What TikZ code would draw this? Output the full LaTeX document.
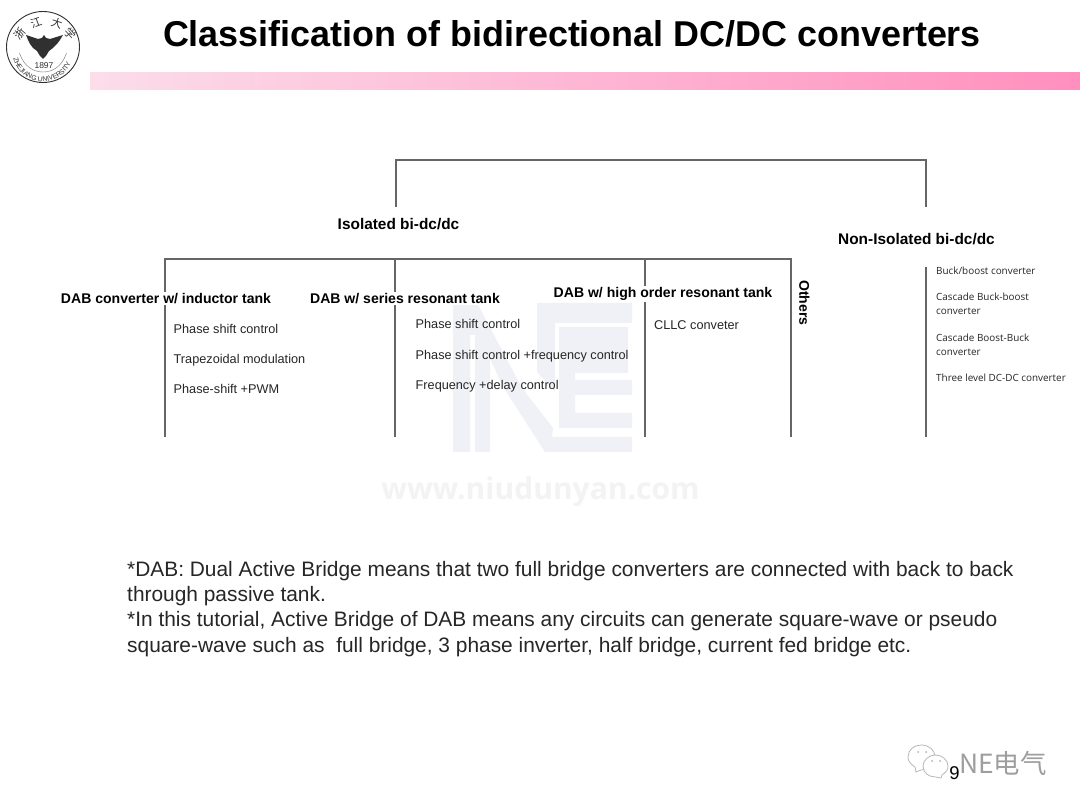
\documentclass[tikz,border=0pt]{standalone}
\usepackage{fontspec}
\setmainfont{Liberation Sans}
\newfontfamily\cjkf{Noto Sans CJK SC}
\newfontfamily\bodyf{Open Sans}
\usetikzlibrary{decorations.text}
\definecolor{linegray}{HTML}{666666}
\definecolor{wmark}{HTML}{F0F1F6}
\definecolor{wtext}{HTML}{F3F3F3}
\definecolor{textgray}{HTML}{262626}
\definecolor{logogray}{HTML}{303030}
\definecolor{barleft}{HTML}{FCDDE9}
\definecolor{barright}{HTML}{FF8FBE}
\tikzset{
  x=1pt,y=-1pt,
  conn/.style={draw=linegray,line width=1.4pt},
  head/.style={inner sep=1pt,font=\fontsize{14.05}{17}\selectfont\bfseries,text=black},
  headbig/.style={inner sep=1pt,font=\fontsize{15.4}{18}\selectfont\bfseries,text=black},
  headw/.style={head,fill=white},
  item/.style={anchor=base west,inner sep=0pt,font=\fontsize{12.7}{15}\selectfont,text=textgray},
  small/.style={anchor=north west,inner sep=0pt,align=left,font=\bodyf\fontsize{9.9}{14}\selectfont,text=textgray},
  wm/.style={fill=wmark,draw=none},
  bubble/.style={draw=black!28,line width=0.8pt,fill=white},
}
\begin{document}
\begin{tikzpicture}
\useasboundingbox (0,0) rectangle (1080,810);
\fill[white] (0,0) rectangle (1080,810);
% watermark N
\fill[wm] (453,303) -- (477,303) -- (522,388) -- (553,428) -- (552,437) -- (632,437) -- (632,452) -- (545,452) -- (502,385) -- (490,358) -- (490,452) -- (475,452) -- (475,335) -- (470,335) -- (470,452) -- (453,452) -- cycle;
% watermark E
\fill[wm] (537,303) -- (632,303) -- (632,323) -- (555,323) -- (555,392) -- (537,372) -- cycle;
\fill[wm] (559,327) -- (628,327) -- (628,373) -- (575,373) -- (575,380) -- (632,380) -- (632,395) -- (575,395) -- (575,413) -- (632,413) -- (632,428) -- (559,428) -- cycle;
\node[inner sep=0pt,text=wtext,font=\bodyf\fontsize{30}{35}\selectfont\bfseries] (wmtext) at (540.500,492) {www.niudunyan.com};
% title and bar
\node[inner sep=0pt,font=\fontsize{35.9}{40}\selectfont\bfseries] (title) at (572,34) {Classification of bidirectional DC/DC converters};
\shade[left color=barleft,right color=barright] (90,73) rectangle (1080,90);
% top bracket
\coordinate (tl) at (396,160); \coordinate (tr) at (926,160);
\coordinate (isoTop) at (396,207); \coordinate (nonTop) at (926,207);
\draw[conn] (isoTop) -- (tl) -- (tr) -- (nonTop);
\node[headbig] (iso) at (398.500,224) {Isolated bi-dc/dc};
\node[headbig] (non) at (916.500,239) {Non-Isolated bi-dc/dc};
% second bracket
\coordinate (a0) at (165,259); \coordinate (a1) at (165,437);
\coordinate (b0) at (395,259); \coordinate (b1) at (395,437);
\coordinate (c0) at (645,259); \coordinate (c1) at (645,437);
\coordinate (d0) at (791,259); \coordinate (d1) at (791,437);
\coordinate (e0) at (926,267); \coordinate (e1) at (926,437);
\draw[conn] (a1) -- (a0) -- (d0) -- (d1);
\draw[conn] (b0) -- (b1);
\draw[conn] (c0) -- (c1);
\draw[conn] (e0) -- (e1);
\node[headw] (dab1) at (166,298.500) {DAB converter w/ inductor tank};
\node[headw] (dab2) at (405,298.500) {DAB w/ series resonant tank};
\node[headw] (dab3) at (663,294) {DAB w/ high order resonant tank};
\node[head,rotate=-90] (oth) at (804.500,303) {Others};
\node[item] at (173.500,333.500) {Phase shift control};
\node[item] at (173.500,364) {Trapezoidal modulation};
\node[item] at (173.500,394) {Phase-shift +PWM};
\node[item] at (415.500,329) {Phase shift control};
\node[item] at (415.500,359.500) {Phase shift control +frequency control};
\node[item] at (415.500,389.500) {Frequency +delay control};
\node[item] at (654,330) {CLLC conveter};
\node[small] at (936,266.500) {Buck/boost converter};
\node[small] at (936,293) {Cascade Buck-boost\\converter};
\node[small] at (936,333.500) {Cascade Boost-Buck\\converter};
\node[small] at (936,374) {Three level DC-DC converter};
% body
\node[anchor=north west,inner sep=0pt,align=left,font=\fontsize{20.9}{25.300}\selectfont,text=textgray] (body) at (127,561) {*DAB: Dual Active Bridge means that two full bridge converters are connected with back to back\\through passive tank.\\*In this tutorial, Active Bridge of DAB means any circuits can generate square-wave or pseudo\\square-wave such as\ \ full bridge, 3 phase inverter, half bridge, current fed bridge etc.};
% logo
\draw[logogray,line width=0.9pt] (43,47) ellipse (36.500 and 35.500);
\draw[black!55,line width=0.4pt] (19.500,53) .. controls (24,67) and (34,72) .. (43,72) .. controls (52,72) and (62,67) .. (66.500,53);
\path[decorate,decoration={text along path,text align=center,text={|\fontsize{6.8}{8}\selectfont\color{logogray}|ZHEJIANG UNIVERSITY}}] (13,50) arc[start angle=175,end angle=355,radius=30,y radius=-29];
\node[inner sep=0pt,font=\fontsize{8.500}{9}\selectfont,text=logogray] (yr) at (44,65.500) {1897};
% eagle
\fill[logogray] (42,38) -- (44,35) -- (46,38) -- (50,39) -- (63,35) -- (60,40) -- (57,44) -- (53,48) -- (49,51) -- (46,56) -- (43,59) -- (40,56) -- (37,51) -- (33,48) -- (30,44) -- (28,40) -- (26,35) -- (38,39) -- cycle;
\foreach \t/\a/\p in {浙/50/{20,34},江/20/{36,23},大/-18/{57,23},学/-48/{70,34}}
  \node[inner sep=0pt,rotate=\a,text=logogray,font=\cjkf\fontsize{11}{11}\selectfont] at (\p) {\t};
% footer
\node[anchor=west,inner sep=0pt,text=black!38,font=\cjkf\fontsize{26.400}{28}\selectfont] (ne) at (959,763) {NE电气};
\draw[bubble] (915,767) .. controls (909,763) and (908,760) .. (908,757) .. controls (908,750) and (914,745) .. (921,745) .. controls (929,745) and (935,750) .. (935,757) .. controls (935,765) and (928,770) .. (921,770) -- (916,772) -- cycle;
\draw[bubble] (942,775) .. controls (946,772) and (948,770) .. (948,766) .. controls (948,760) and (942,755) .. (935.500,755) .. controls (929,755) and (923,760) .. (923,766) .. controls (923,773) and (929,777) .. (935.500,777) -- (941,778) -- cycle;
\fill[black!30] (918,752) circle (1) (926,752) circle (1) (932,761) circle (1) (940,761) circle (1);
\node[inner sep=0pt,font=\fontsize{18.5}{20}\selectfont] (pg) at (954.500,773) {9};
\end{tikzpicture}
\end{document}
